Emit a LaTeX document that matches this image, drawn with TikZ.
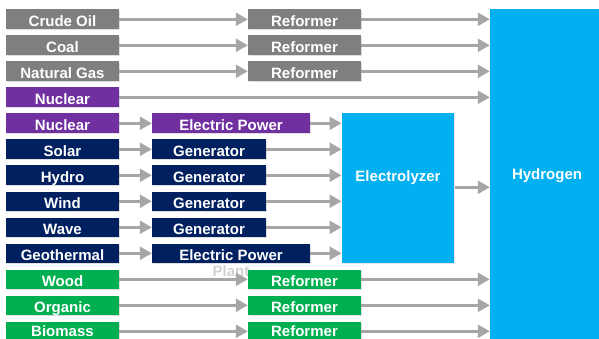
\documentclass[tikz,border=0pt]{standalone}
\usepackage{fontspec}
\setmainfont{Liberation Sans}
\usetikzlibrary{arrows.meta,shadows}
\definecolor{cgray}{HTML}{7F7F7F}
\definecolor{cpurple}{HTML}{7030A0}
\definecolor{cnavy}{HTML}{002060}
\definecolor{cgreen}{HTML}{00B050}
\definecolor{cblue}{HTML}{00B0F0}
\definecolor{arrgray}{HTML}{A6A6A6}
\begin{document}
\begin{tikzpicture}[x=1pt,y=-1pt,
  txt/.style={font=\bfseries\fontsize{15}{17}\selectfont},
  box/.style={rectangle, txt, minimum height=19.6pt, inner sep=0pt, text=white,
    text height=13.7pt, text depth=0pt,
    drop shadow={shadow xshift=0.8pt, shadow yshift=-1.2pt, opacity=0.25}},
  lastrow/.style={text height=11.2pt},
  src/.style={box, minimum width=113pt},
  gbox/.style={src, fill=cgray},
  pbox/.style={src, fill=cpurple},
  nbox/.style={src, fill=cnavy},
  grbox/.style={src, fill=cgreen},
  gref/.style={box, minimum width=113pt, fill=cgray},
  grref/.style={box, minimum width=113pt, fill=cgreen},
  epbox/.style={box, minimum width=158pt},
  genbox/.style={box, minimum width=114pt, fill=cnavy},
  bigbox/.style={rectangle, fill=cblue, inner sep=0pt,
    drop shadow={shadow xshift=0.8pt, shadow yshift=-1.2pt, opacity=0.2}},
  bigtxt/.style={txt, text=white, inner sep=0pt, text height=10.7pt, text depth=0pt},
  hidden/.style={txt, text=black!18, inner sep=0pt, text height=10.7pt, text depth=0pt},
  arr/.style={draw=arrgray, line width=2.6pt, -{Triangle[length=12pt,width=13pt]}}]
\useasboundingbox (0,0) rectangle (599,339);
\clip (0,0) rectangle (599,339);

% overflowing text partly hidden behind a box
\node[hidden] (plantB) at (231,271.5) {Plant};

% big boxes
\node[bigbox, minimum width=112.6pt, minimum height=149.4pt] (ely) at (398,188) {};
\node[bigtxt] (elyt) at (398,176.2) {Electrolyzer};
\node[bigbox, minimum width=114pt, minimum height=331pt] (hyd) at (547,174.8) {};
\node[bigtxt] (hydt) at (547,173.8) {Hydrogen};

% left column
\node[gbox] (crude) at (62.5,19.3) {Crude Oil};
\node[gbox] (coal) at (62.5,45.3) {Coal};
\node[gbox] (gas) at (62.5,71.3) {Natural Gas};
\node[pbox] (nucA) at (62.5,97.3) {Nuclear};
\node[pbox] (nucB) at (62.5,123.3) {Nuclear};
\node[nbox] (solar) at (62.5,149.3) {Solar};
\node[nbox] (hydro) at (62.5,175.3) {Hydro};
\node[nbox] (wind) at (62.5,201.3) {Wind};
\node[nbox] (wave) at (62.5,227.3) {Wave};
\node[nbox] (geo) at (62.5,253.3) {Geothermal};
\node[grbox] (wood) at (62.5,279.3) {Wood};
\node[grbox] (organic) at (62.5,305.3) {Organic};
\node[grbox, lastrow] (biomass) at (62.5,331.3) {Biomass};

% middle column
\node[gref] (refA) at (304.5,19.3) {Reformer};
\node[gref] (refB) at (304.5,45.3) {Reformer};
\node[gref] (refC) at (304.5,71.3) {Reformer};
\node[epbox, fill=cpurple] (epA) at (231,123.3) {Electric Power};
\node[genbox] (genA) at (209,149.3) {Generator};
\node[genbox] (genB) at (209,175.3) {Generator};
\node[genbox] (genC) at (209,201.3) {Generator};
\node[genbox] (genD) at (209,227.3) {Generator};
\node[epbox, fill=cnavy] (epB) at (231,253.3) {Electric Power};
\node[grref] (refD) at (304.5,279.3) {Reformer};
\node[grref] (refE) at (304.5,305.3) {Reformer};
\node[grref, lastrow] (refF) at (304.5,331.3) {Reformer};

% connectors
\draw[arr] (crude.east) -- (refA.west);
\draw[arr] (coal.east) -- (refB.west);
\draw[arr] (gas.east) -- (refC.west);
\draw[arr] (refA.east) -- (refA.east -| hyd.west);
\draw[arr] (refB.east) -- (refB.east -| hyd.west);
\draw[arr] (refC.east) -- (refC.east -| hyd.west);
\draw[arr] (nucA.east) -- (nucA.east -| hyd.west);
\draw[arr] (nucB.east) -- (epA.west);
\draw[arr] (solar.east) -- (genA.west);
\draw[arr] (hydro.east) -- (genB.west);
\draw[arr] (wind.east) -- (genC.west);
\draw[arr] (wave.east) -- (genD.west);
\draw[arr] (geo.east) -- (epB.west);
\draw[arr] (epA.east) -- (epA.east -| ely.west);
\draw[arr] (genA.east) -- (genA.east -| ely.west);
\draw[arr] (genB.east) -- (genB.east -| ely.west);
\draw[arr] (genC.east) -- (genC.east -| ely.west);
\draw[arr] (genD.east) -- (genD.east -| ely.west);
\draw[arr] (epB.east) -- (epB.east -| ely.west);
\draw[arr] (ely.east |- 0,187.3) -- (hyd.west |- 0,187.3);
\draw[arr] (wood.east) -- (refD.west);
\draw[arr] (organic.east) -- (refE.west);
\draw[arr] (biomass.east) -- (refF.west);
\draw[arr] (refD.east) -- (refD.east -| hyd.west);
\draw[arr] (refE.east) -- (refE.east -| hyd.west);
\draw[arr] (refF.east) -- (refF.east -| hyd.west);
\end{tikzpicture}
\end{document}
